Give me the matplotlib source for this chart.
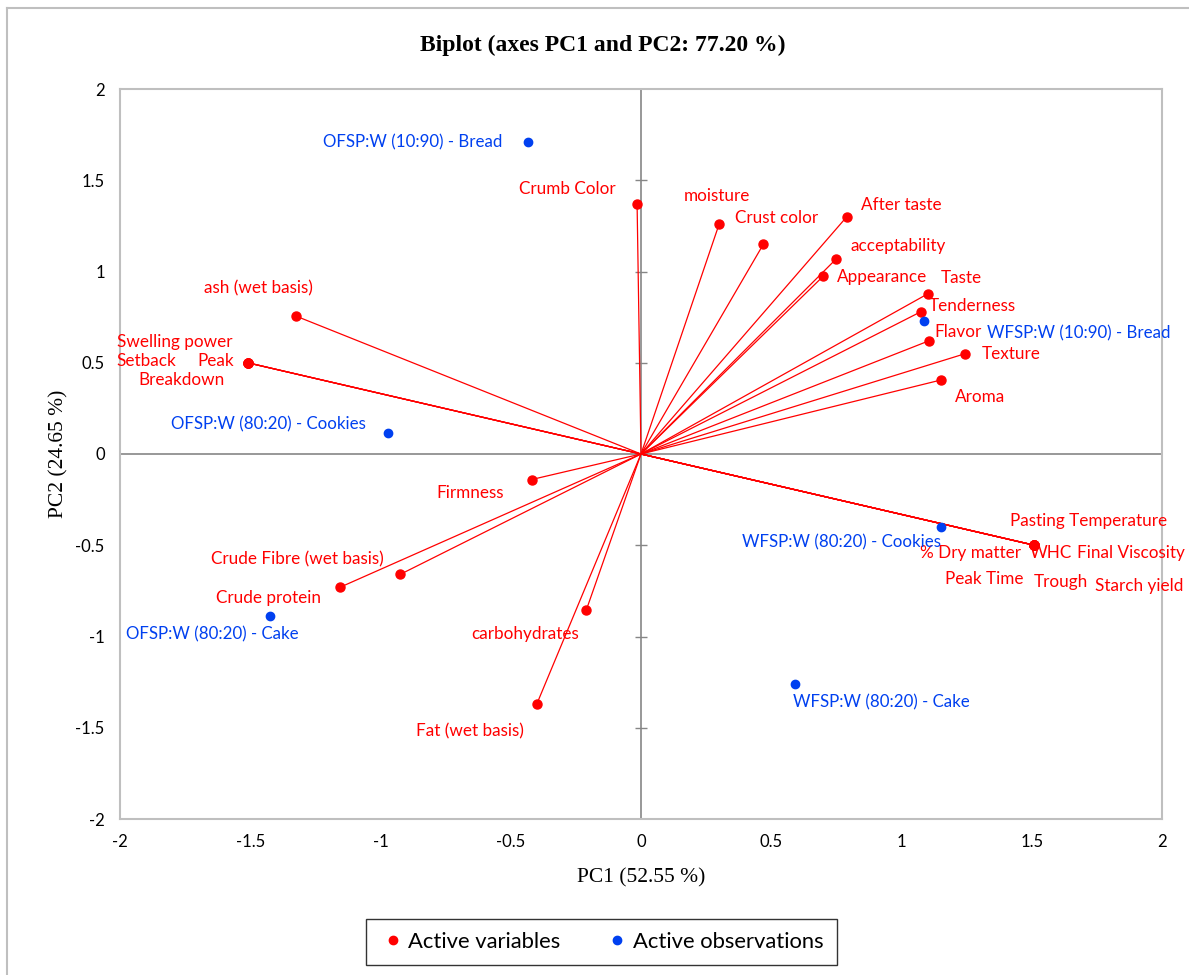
import numpy as np
import matplotlib
matplotlib.use("Agg")
import matplotlib.pyplot as plt
from matplotlib.lines import Line2D

# ── Data ─────────────────────────────────────────────────────────────────────
VAR_NAMES = [
    "Crumb Color", "moisture", "Crust color", "After taste", "acceptability",
    "Appearance", "Taste", "Tenderness", "Flavor", "Texture", "Aroma",
    "ash (wet basis)", "Swelling power", "Setback", "Peak", "Breakdown",
    "Firmness", "Crude Fibre (wet basis)", "Crude protein", "carbohydrates",
    "Fat (wet basis)", "Pasting Temperature", "% Dry matter", "WHC",
    "Final Viscosity", "Peak Time", "Trough", "Starch yield",
]
VAR_PC1 = [-0.015, 0.30, 0.47, 0.79, 0.75, 0.70, 1.10, 1.075, 1.105, 1.245, 1.15,
           -1.325, -1.51, -1.51, -1.51, -1.51, -0.42, -0.925, -1.155, -0.21,
           -0.40, 1.51, 1.51, 1.51, 1.51, 1.51, 1.51, 1.51]
VAR_PC2 = [1.37, 1.26, 1.15, 1.30, 1.07, 0.975, 0.877, 0.78, 0.62, 0.55, 0.405,
           0.756, 0.50, 0.50, 0.50, 0.50, -0.14, -0.66, -0.73, -0.855,
           -1.37, -0.50, -0.50, -0.50, -0.50, -0.50, -0.50, -0.50]

OBS_NAMES = [
    "OFSP:W (10:90) - Bread", "WFSP:W (10:90) - Bread",
    "OFSP:W (80:20) - Cookies", "WFSP:W (80:20) - Cookies",
    "OFSP:W (80:20) - Cake", "WFSP:W (80:20) - Cake",
]
OBS_PC1 = [-0.434, 1.086, -0.97, 1.15, -1.424, 0.59]
OBS_PC2 = [1.71, 0.73, 0.115, -0.40, -0.89, -1.26]

TICKS = [-2, -1.5, -1, -0.5, 0, 0.5, 1, 1.5, 2]

# label offsets from their point, in pixels (x right, y up)
VAR_OFFSETS = {
    "Crumb Color": (-70, 15), "moisture": (-2, 28), "Crust color": (13, 26),
    "After taste": (55, 12), "acceptability": (62, 13), "Appearance": (59, -1),
    "Taste": (34, 16), "Tenderness": (51, 6), "Flavor": (29, 9),
    "Texture": (46, 0), "Aroma": (40, -17), "ash (wet basis)": (-37, 28),
    "Swelling power": (-73, 21), "Setback": (-101, 2), "Peak": (-32, 2),
    "Breakdown": (-66, -17), "Firmness": (-61, -13),
    "Crude Fibre (wet basis)": (-103, 15), "Crude protein": (-72, -11),
    "carbohydrates": (-61, -24), "Fat (wet basis)": (-67, -27),
    "Pasting Temperature": (54, 24), "% Dry matter": (-64, -8), "WHC": (17, -8),
    "Final Viscosity": (97, -8), "Peak Time": (-50, -34), "Trough": (27, -37),
    "Starch yield": (105, -41),
}
OBS_OFFSETS = {
    "OFSP:W (10:90) - Bread": (-115, 0), "WFSP:W (10:90) - Bread": (155, -13),
    "OFSP:W (80:20) - Cookies": (-120, 9), "WFSP:W (80:20) - Cookies": (-99, -15),
    "OFSP:W (80:20) - Cake": (-58, -18), "WFSP:W (80:20) - Cake": (87, -18),
}

RED = "#FF0000"
BLUE = "#0040F0"
BORDER = "#BFBFBF"
ZERO = "#868686"

plt.rcParams["font.family"] = ["Lato", "DejaVu Sans"]
plt.rcParams["axes.unicode_minus"] = False


def main():
    fig = plt.figure(figsize=(11.89, 9.75), dpi=100)
    ax = fig.add_axes([120 / 1189, 1 - 819 / 975, 1042 / 1189, 730 / 975])

    # outer chart frame (left and top edges visible)
    fig.add_artist(Line2D([7 / 1189, 7 / 1189], [0, 1 - 8 / 975],
                          color=BORDER, lw=1.5, transform=fig.transFigure))
    fig.add_artist(Line2D([7 / 1189, 1], [1 - 8 / 975, 1 - 8 / 975],
                          color=BORDER, lw=1.5, transform=fig.transFigure))

    ax.set_xlim(-2, 2)
    ax.set_ylim(-2, 2)
    for s in ax.spines.values():
        s.set_color(BORDER)
        s.set_linewidth(1.5)

    # zero axes, with cross ticks on the vertical one
    ax.axhline(0, color=ZERO, lw=1.2, zorder=1)
    ax.axvline(0, color=ZERO, lw=1.2, zorder=1)
    inner = [t for t in TICKS if abs(t) < 2]
    ax.plot(np.zeros(len(inner)), inner, ls="none", marker="_", ms=8,
            mew=1.0, color=ZERO, zorder=1)

    ax.set_xticks(TICKS)
    ax.set_yticks(TICKS)
    ax.set_xticklabels([f"{t:g}" for t in TICKS], fontsize=12)
    ax.set_yticklabels([f"{t:g}" for t in TICKS], fontsize=12)
    ax.tick_params(length=0, pad=11)

    # variable vectors
    for name, x, y in zip(VAR_NAMES, VAR_PC1, VAR_PC2):
        ax.plot([0, x], [0, y], color=RED, lw=0.9, zorder=2)
    ax.plot(VAR_PC1, VAR_PC2, ls="none", marker="o", ms=6.5, color=RED, zorder=3)
    for name, x, y in zip(VAR_NAMES, VAR_PC1, VAR_PC2):
        dx, dy = VAR_OFFSETS[name]
        ax.annotate(name, (x, y), xytext=(dx, dy), textcoords="offset pixels",
                    ha="center", va="center", color=RED, fontsize=12.3, zorder=4)

    # observations
    ax.plot(OBS_PC1, OBS_PC2, ls="none", marker="o", ms=6, color=BLUE, zorder=3)
    for name, x, y in zip(OBS_NAMES, OBS_PC1, OBS_PC2):
        dx, dy = OBS_OFFSETS[name]
        ax.annotate(name, (x, y), xytext=(dx, dy), textcoords="offset pixels",
                    ha="center", va="center", color=BLUE, fontsize=12.2, zorder=4)

    ax.set_xlabel("PC1 (52.55 %)", family="Liberation Serif", fontsize=15.5,
                  labelpad=13)
    ax.set_ylabel("PC2 (24.65 %)", family="Liberation Serif", fontsize=15.5,
                  labelpad=5)
    fig.text(603 / 1189, 1 - 45 / 975,
             "Biplot (axes PC1 and PC2: 77.20 %)", family="Liberation Serif",
             fontsize=17, fontweight="bold", ha="center", va="center")

    handles = [
        Line2D([], [], ls="none", marker="o", ms=6, color=RED, label="Active variables"),
        Line2D([], [], ls="none", marker="o", ms=6, color=BLUE, label="Active observations"),
    ]
    leg = fig.legend(handles=handles, loc="center", ncol=2,
                     bbox_to_anchor=(601.5 / 1189, 1 - 942 / 975),
                     fontsize=15.8, frameon=True, fancybox=False,
                     handletextpad=0.1, handlelength=1.2, columnspacing=2.0,
                     borderpad=0.6, borderaxespad=0)
    leg.get_frame().set_edgecolor("black")
    leg.get_frame().set_linewidth(1.0)

    fig.savefig("out.png", dpi=100)
    plt.close(fig)


if __name__ == "__main__":
    main()
